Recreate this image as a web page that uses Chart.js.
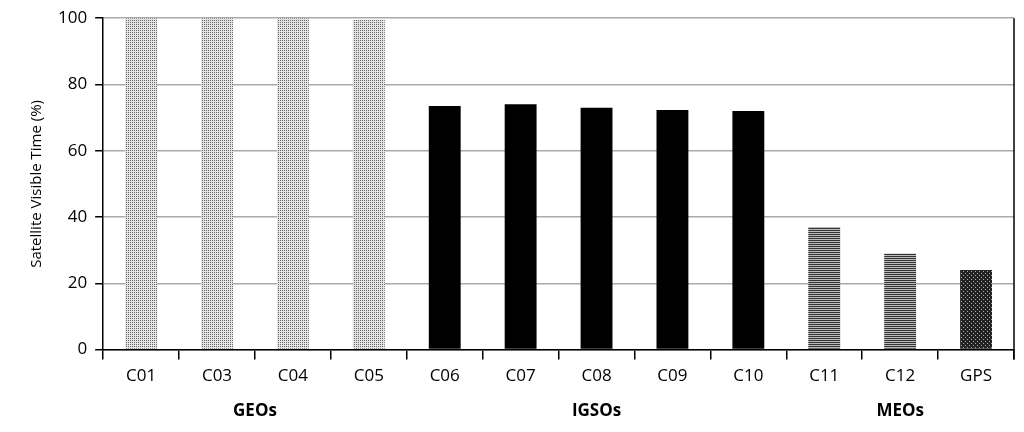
<!DOCTYPE html><html><head><script src="https://cdn.jsdelivr.net/npm/chart.js"></script>
<style>body{margin:0;background:#fff}#w{width:1024px;height:432px}</style></head><body><div id="w"><canvas id="c"></canvas></div>
<script>
const categories=["C01","C03","C04","C05","C06","C07","C08","C09","C10","C11","C12","GPS"];
const visibleTime=[100,100,100,99.5,73.5,74,73,72.3,72,37,29,24];
const groupNames=["GEOs","IGSOs","MEOs"];
const groupCenters=[1.5,6,10];
function pat(kind){const c=document.createElement('canvas');c.width=4;c.height=4;const g=c.getContext('2d');
 if(kind==='dot'){g.fillStyle='#e4e4e4';g.fillRect(0,0,4,4);g.fillStyle='#666';g.fillRect(0,0,1,1);g.fillRect(2,2,1,1);g.fillRect(2,0,1,1);g.fillRect(0,2,1,1);}
 else if(kind==='hline'){g.fillStyle='#bbb';g.fillRect(0,0,4,4);g.fillStyle='#333';g.fillRect(0,0,4,1);g.fillRect(0,2,4,1);}
 else if(kind==='dark'){g.fillStyle='#222';g.fillRect(0,0,4,4);g.fillStyle='#aaa';g.fillRect(1,1,1,1);g.fillRect(3,3,1,1);}
 return document.getElementById('c').getContext('2d').createPattern(c,'repeat');}
const fills=categories.map((c,i)=>i<4?pat('dot'):i<9?'#000':i<11?pat('hline'):pat('dark'));
const F='"Open Sans", sans-serif';
const groupPlugin={id:'grp',afterDraw(ch){const x=ch.scales.x,ctx=ch.ctx;ctx.save();ctx.font='bold 17px '+F;ctx.fillStyle='#000';ctx.textAlign='center';ctx.textBaseline='middle';
 groupNames.forEach((n,i)=>ctx.fillText(n,x.getPixelForValue(groupCenters[i]),411));
 ctx.strokeStyle='#000';ctx.lineWidth=1.5;ctx.beginPath();ctx.moveTo(ch.chartArea.right,ch.chartArea.top);ctx.lineTo(ch.chartArea.right,ch.chartArea.bottom+10);ctx.stroke();ctx.restore();}};
new Chart(document.getElementById('c'),{type:'bar',data:{labels:categories,datasets:[{data:visibleTime,backgroundColor:fills,barPercentage:0.42,categoryPercentage:1}]},
options:{responsive:true,maintainAspectRatio:false,animation:false,layout:{padding:{top:10,right:10,bottom:40,left:24}},
plugins:{legend:{display:false},tooltip:{enabled:false}},
scales:{x:{grid:{offset:true,display:true,drawOnChartArea:false,color:'#000',tickLength:10,lineWidth:1.5},border:{color:'#000',width:1.5},ticks:{color:'#000',padding:6,font:{size:17,family:F}}},
y:{min:0,max:100,ticks:{stepSize:20,color:'#000',padding:8,font:{size:17,family:F}},grid:{color:'#aaa',lineWidth:1.5,tickLength:8,tickColor:'#000'},border:{color:'#000',width:1.5},
title:{display:true,text:'Satellite Visible Time (%)',color:'#000',font:{size:15,family:F}}}}},plugins:[groupPlugin]});
</script></body></html>
